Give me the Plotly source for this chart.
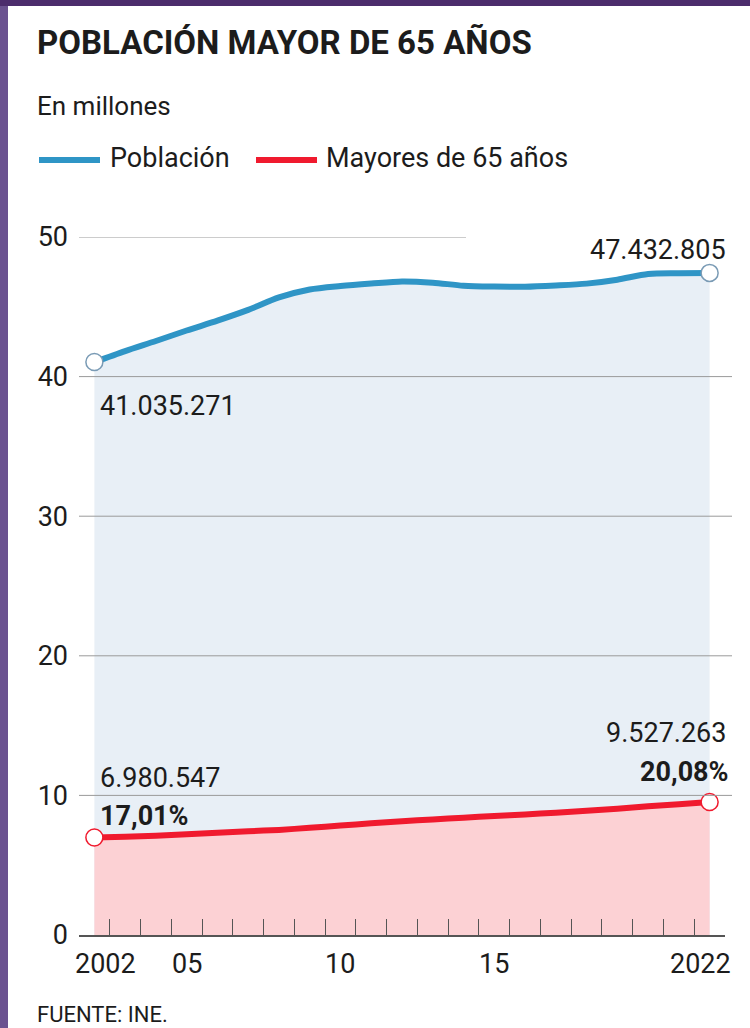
import plotly.graph_objects as go

# Datos (millones de personas)
years = list(range(2002, 2023))
poblacion = [41.04, 41.83, 42.55, 43.30, 44.01, 44.78, 45.67, 46.24, 46.49, 46.67, 46.82,
             46.73, 46.51, 46.45, 46.44, 46.53, 46.66, 46.94, 47.35, 47.40, 47.43]
mayores = [6.98, 7.04, 7.11, 7.21, 7.33, 7.43, 7.53, 7.68, 7.84, 8.00, 8.15,
           8.28, 8.40, 8.53, 8.64, 8.76, 8.90, 9.05, 9.22, 9.37, 9.53]

y_ticks = [0, 10, 20, 30, 40, 50]
x_label_years = [2002, 2005, 2010, 2015, 2022]
x_labels = ["2002", "05", "10", "15", "2022"]

pob_labels = ["41.035.271", "47.432.805"]
may_labels = ["6.980.547", "9.527.263"]
pct_labels = ["17,01%", "20,08%"]

BLUE = "#2f95c6"
RED = "#f01a2e"
BLUE_FILL = "#e8eff6"
RED_FILL = "#fcd1d4"
TXT = "#1c1c1c"
FONT = "Roboto, Noto Sans, sans-serif"

W, H = 750, 1028
L, R, T, B = 79, 25, 237, 93


def px_x(p):
    return (p - L) / (W - L - R)


def px_y(p):
    return (H - B - p) / (H - T - B)


fig = go.Figure()

fig.add_trace(go.Scatter(
    x=years, y=poblacion, mode="lines", name="Población",
    line=dict(color=BLUE, width=6, shape="spline", smoothing=0.8),
    fill="tozeroy", fillcolor=BLUE_FILL, hoverinfo="skip"))
fig.add_trace(go.Scatter(
    x=years, y=mayores, mode="lines", name="Mayores de 65 años",
    line=dict(color=RED, width=6, shape="spline", smoothing=0.8),
    fill="tozeroy", fillcolor=RED_FILL, hoverinfo="skip"))

# circulos en los extremos
fig.add_trace(go.Scatter(
    x=[years[0], years[-1]], y=[poblacion[0], poblacion[-1]], mode="markers",
    marker=dict(size=17, color="white", line=dict(color="#7a9bb5", width=1.5)),
    hoverinfo="skip"))
fig.add_trace(go.Scatter(
    x=[years[0], years[-1]], y=[mayores[0], mayores[-1]], mode="markers",
    marker=dict(size=17, color="white", line=dict(color=RED, width=1.5)),
    hoverinfo="skip"))

shapes = []
# lineas de referencia
for v in y_ticks[1:]:
    shapes.append(dict(type="line", xref="paper", yref="y", x0=0,
                       x1=px_x(466) if v == 50 else px_x(732), y0=v, y1=v,
                       line=dict(color="#9a9a9a", width=1), layer="above"))
# marco morado
shapes.append(dict(type="rect", xref="paper", yref="paper", x0=px_x(0), x1=px_x(8),
                   y0=px_y(H), y1=px_y(0), fillcolor="#6b5290", line=dict(width=0)))
shapes.append(dict(type="rect", xref="paper", yref="paper", x0=px_x(0), x1=px_x(W),
                   y0=px_y(6), y1=px_y(0), fillcolor="#4c2c6c", line=dict(width=0)))
# leyenda
shapes.append(dict(type="line", xref="paper", yref="paper", x0=px_x(39), x1=px_x(100),
                   y0=px_y(160), y1=px_y(160), line=dict(color=BLUE, width=6)))
shapes.append(dict(type="line", xref="paper", yref="paper", x0=px_x(256), x1=px_x(317),
                   y0=px_y(160), y1=px_y(160), line=dict(color=RED, width=6)))

ann = []
ann.append(dict(text="<b>POBLACIÓN MAYOR DE 65 AÑOS</b>", xref="paper", yref="paper",
                x=px_x(35), y=px_y(42), xanchor="left", yanchor="middle",
                font=dict(size=33, color=TXT), showarrow=False))
ann.append(dict(text="En millones", xref="paper", yref="paper",
                x=px_x(35), y=px_y(106), xanchor="left", yanchor="middle",
                font=dict(size=26, color=TXT), showarrow=False))
ann.append(dict(text="Población", xref="paper", yref="paper",
                x=px_x(108), y=px_y(158), xanchor="left", yanchor="middle",
                font=dict(size=27, color=TXT), showarrow=False))
ann.append(dict(text="Mayores de 65 años", xref="paper", yref="paper",
                x=px_x(324), y=px_y(158), xanchor="left", yanchor="middle",
                font=dict(size=27, color=TXT), showarrow=False))
ann.append(dict(text="FUENTE: INE.", xref="paper", yref="paper",
                x=px_x(35), y=px_y(1000), xanchor="left", yanchor="top",
                font=dict(size=22, color=TXT), showarrow=False))

# etiquetas del eje x
shifts = {2002: 11, 2022: -9}
for yr, lab in zip(x_label_years, x_labels):
    ann.append(dict(text=lab, x=yr, xref="x", yref="paper", y=0, yanchor="middle",
                    yshift=-29, xshift=shifts.get(yr, 0), showarrow=False,
                    font=dict(size=27, color=TXT)))

# etiquetas de valores
ann.append(dict(text=pob_labels[0], x=years[0], y=poblacion[0], xanchor="left",
                yanchor="middle", xshift=4, yshift=-44, showarrow=False,
                font=dict(size=27, color=TXT)))
ann.append(dict(text=pob_labels[1], x=years[-1], y=poblacion[-1], xanchor="right",
                yanchor="middle", xshift=18, yshift=23, showarrow=False,
                font=dict(size=27, color=TXT)))
ann.append(dict(text=may_labels[0], x=years[0], y=mayores[0], xanchor="left",
                yanchor="middle", xshift=4, yshift=60, showarrow=False,
                font=dict(size=27, color=TXT)))
ann.append(dict(text="<b>" + pct_labels[0] + "</b>", x=years[0], y=mayores[0],
                xanchor="left", yanchor="middle", xshift=4, yshift=22, showarrow=False,
                font=dict(size=27, color=TXT)))
ann.append(dict(text=may_labels[1], x=years[-1], y=mayores[-1], xanchor="right",
                yanchor="middle", xshift=18, yshift=69, showarrow=False,
                font=dict(size=27, color=TXT)))
ann.append(dict(text="<b>" + pct_labels[1] + "</b>", x=years[-1], y=mayores[-1],
                xanchor="right", yanchor="middle", xshift=21, yshift=30, showarrow=False,
                font=dict(size=27, color=TXT)))

fig.update_layout(
    width=W, height=H,
    margin=dict(l=L, r=R, t=T, b=B),
    paper_bgcolor="white", plot_bgcolor="white",
    showlegend=False,
    font=dict(family=FONT, color=TXT),
    shapes=shapes, annotations=ann,
    xaxis=dict(range=[2001.5, 2022.5], showgrid=False, zeroline=False,
               showline=True, linecolor="#555555", linewidth=1.5,
               tick0=2001.5, dtick=1, ticks="inside", ticklen=16,
               tickcolor="#555555", tickwidth=1, showticklabels=False),
    yaxis=dict(range=[0, 50], showgrid=False, zeroline=False, showline=False,
               tickvals=y_ticks, ticks="", ticklabelstandoff=10,
               tickfont=dict(size=27, color=TXT)),
)

# sin margen del body para que la figura ocupe toda la ventana
fig.write_html("out.html", config={"displayModeBar": False},
               post_script="document.body.style.margin='0';")
